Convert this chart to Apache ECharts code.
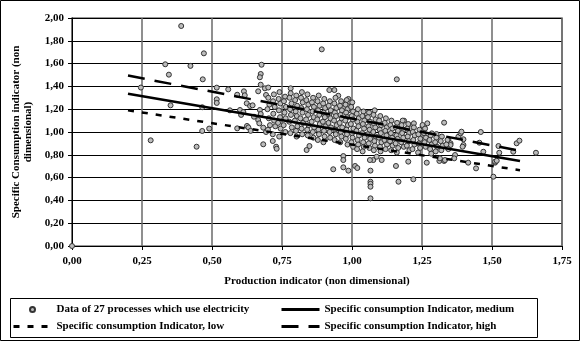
<!DOCTYPE html>
<html>
<head>
<meta charset="utf-8">
<title>Specific consumption indicator</title>
<script src="https://cdn.jsdelivr.net/npm/echarts@6/dist/echarts.min.js"></script>
<style>
    html, body { margin: 0; padding: 0; background: #fff; }
    #chart { width: 580px; height: 341px; }
</style>
</head>
<body>
<div id="chart"></div>
<script>
// series names
var seriesNames = [
    'Data of 27 processes which use electricity',
    'Specific consumption Indicator, medium',
    'Specific consumption Indicator, low',
    'Specific consumption Indicator, high'
];

// scattered points outside the main cloud
var sparsePoints = [
    [0, 0],
    [0.246, 1.39], [0.281, 0.927], [0.333, 1.594], [0.346, 1.503], [0.352, 1.234], [0.39, 1.93],
    [0.423, 1.58], [0.445, 0.871], [0.467, 1.462], [0.471, 1.69], [0.465, 1.217], [0.465, 1.009],
    [0.49, 1.03], [0.517, 1.389], [0.517, 1.287], [0.517, 1.255], [0.558, 1.374], [0.564, 1.19],
    [0.59, 1.327], [0.59, 1.032], [0.6, 1.193], [0.604, 1.15], [0.614, 1.357], [0.617, 1.322],
    [0.625, 1.053], [0.624, 1.252], [0.636, 1.228], [0.645, 1.234], [0.612, 1.175], [0.63, 1.04],
    [0.638, 1.01], [0.65, 1.134], [0.665, 1.357], [0.677, 1.59], [0.674, 1.509], [0.671, 1.48],
    [0.674, 1.415], [0.689, 1.383], [0.701, 1.39], [0.693, 1.325], [0.671, 1.193], [0.674, 1.158],
    [0.665, 1.105], [0.669, 1.076], [0.683, 1.038], [0.693, 1.0], [0.683, 0.892], [0.717, 0.921],
    [0.729, 0.871], [0.731, 0.853], [0.781, 1.383], [0.892, 1.725], [0.919, 1.368], [0.937, 1.368],
    [0.951, 1.318], [0.987, 1.29], [0.987, 1.26], [0.987, 1.225], [0.987, 1.19], [0.971, 1.217],
    [0.838, 0.842], [0.848, 0.877], [0.969, 0.789], [0.969, 0.754], [0.933, 0.673], [0.969, 0.69],
    [0.987, 0.661], [1.011, 0.702], [1.019, 0.684], [1.066, 0.661], [1.066, 0.564], [1.066, 0.545],
    [1.066, 0.52], [1.066, 0.418], [1.157, 0.702], [1.166, 0.564], [1.219, 0.585], [1.201, 0.74],
    [1.267, 0.731], [1.312, 0.746], [1.329, 0.746], [1.415, 0.731], [1.443, 0.681], [1.505, 0.608],
    [1.511, 0.731], [1.16, 1.462], [1.052, 1.164], [1.186, 1.099], [1.221, 1.076], [1.21, 1.032],
    [1.252, 1.061], [1.269, 1.076], [1.329, 1.082], [1.285, 0.988], [1.302, 0.982], [1.344, 0.936],
    [1.352, 0.901], [1.38, 0.959], [1.314, 0.769], [1.332, 0.754], [1.076, 0.754], [1.088, 0.783],
    [1.106, 0.754], [1.064, 0.754], [1.388, 0.988], [1.391, 1.003], [1.398, 0.936], [1.398, 0.886],
    [1.395, 0.871], [1.46, 1.0], [1.352, 0.886], [1.368, 0.798], [1.365, 0.769], [1.469, 0.827],
    [1.455, 0.906], [1.511, 0.74], [1.517, 0.748], [1.523, 0.877], [1.526, 0.818], [1.576, 0.827],
    [1.588, 0.901], [1.598, 0.924], [1.657, 0.818]
];

// dense cloud of points around the medium line
var densePoints = [
    [0.701, 1.30], [0.705, 1.24], [0.698, 1.20], [0.703, 1.12], [0.707, 1.06], [0.700, 1.02],
    [0.721, 1.33], [0.718, 1.27], [0.724, 1.22], [0.719, 1.16], [0.722, 1.10], [0.726, 1.05], [0.717, 0.98],
    [0.741, 1.35], [0.738, 1.29], [0.744, 1.25], [0.739, 1.19], [0.743, 1.13], [0.736, 1.08], [0.745, 1.03], [0.740, 0.96],
    [0.761, 1.31], [0.757, 1.27], [0.764, 1.22], [0.759, 1.17], [0.763, 1.12], [0.756, 1.06], [0.762, 1.00],
    [0.781, 1.34], [0.777, 1.30], [0.784, 1.25], [0.779, 1.20], [0.782, 1.15], [0.776, 1.09], [0.785, 1.04], [0.780, 0.99],
    [0.801, 1.32], [0.797, 1.28], [0.804, 1.23], [0.799, 1.18], [0.803, 1.14], [0.796, 1.10], [0.805, 1.05], [0.800, 1.01], [0.802, 0.96],
    [0.821, 1.35], [0.818, 1.30], [0.824, 1.26], [0.819, 1.21], [0.823, 1.17], [0.816, 1.12], [0.825, 1.08], [0.820, 1.03], [0.822, 0.98],
    [0.841, 1.33], [0.837, 1.28], [0.844, 1.24], [0.839, 1.20], [0.843, 1.15], [0.836, 1.11], [0.845, 1.06], [0.840, 1.02], [0.842, 0.97],
    [0.861, 1.30], [0.857, 1.26], [0.864, 1.22], [0.859, 1.18], [0.863, 1.13], [0.856, 1.09], [0.865, 1.04], [0.860, 1.00], [0.862, 0.95],
    [0.881, 1.32], [0.877, 1.27], [0.884, 1.23], [0.879, 1.19], [0.883, 1.15], [0.876, 1.11], [0.885, 1.07], [0.880, 1.02], [0.882, 0.98], [0.878, 0.93],
    [0.901, 1.29], [0.897, 1.25], [0.904, 1.21], [0.899, 1.17], [0.903, 1.13], [0.896, 1.09], [0.905, 1.05], [0.900, 1.01], [0.902, 0.96], [0.898, 0.91],
    [0.921, 1.27], [0.917, 1.23], [0.924, 1.19], [0.919, 1.15], [0.923, 1.12], [0.916, 1.08], [0.925, 1.04], [0.920, 1.00], [0.922, 0.95],
    [0.941, 1.30], [0.937, 1.25], [0.944, 1.21], [0.939, 1.17], [0.943, 1.14], [0.936, 1.10], [0.945, 1.06], [0.940, 1.02], [0.942, 0.98], [0.938, 0.93],
    [0.961, 1.27], [0.957, 1.23], [0.964, 1.19], [0.959, 1.15], [0.963, 1.12], [0.956, 1.08], [0.965, 1.04], [0.960, 1.00], [0.962, 0.96], [0.958, 0.91],
    [0.981, 1.28], [0.977, 1.24], [0.984, 1.20], [0.979, 1.17], [0.983, 1.13], [0.976, 1.10], [0.985, 1.06], [0.980, 1.02], [0.982, 0.98], [0.978, 0.94], [0.984, 0.89],
    [1.001, 1.26], [0.997, 1.22], [1.004, 1.18], [0.999, 1.14], [1.003, 1.11], [0.996, 1.07], [1.005, 1.03], [1.000, 0.99], [1.002, 0.95], [0.998, 0.91], [1.004, 0.87],
    [1.021, 1.20], [1.017, 1.16], [1.024, 1.12], [1.019, 1.09], [1.023, 1.05], [1.016, 1.01], [1.025, 0.97], [1.020, 0.93], [1.022, 0.89], [1.018, 0.85],
    [1.041, 1.18], [1.037, 1.14], [1.044, 1.10], [1.039, 1.07], [1.043, 1.03], [1.036, 0.99], [1.045, 0.95], [1.040, 0.91], [1.042, 0.87], [1.038, 0.83],
    [1.061, 1.17], [1.057, 1.13], [1.064, 1.09], [1.059, 1.05], [1.063, 1.02], [1.056, 0.98], [1.065, 0.94], [1.060, 0.90], [1.062, 0.86],
    [1.081, 1.19], [1.077, 1.15], [1.084, 1.11], [1.079, 1.07], [1.083, 1.04], [1.076, 1.00], [1.085, 0.96], [1.080, 0.92], [1.082, 0.88], [1.078, 0.84],
    [1.101, 1.14], [1.097, 1.10], [1.104, 1.06], [1.099, 1.02], [1.103, 0.99], [1.096, 0.95], [1.105, 0.91], [1.100, 0.87], [1.102, 0.83],
    [1.121, 1.12], [1.117, 1.08], [1.124, 1.04], [1.119, 1.01], [1.123, 0.97], [1.116, 0.93], [1.125, 0.89], [1.120, 0.85],
    [1.141, 1.10], [1.137, 1.06], [1.144, 1.03], [1.139, 0.99], [1.143, 0.95], [1.136, 0.92], [1.145, 0.88], [1.140, 0.84],
    [1.161, 1.08], [1.157, 1.04], [1.164, 1.01], [1.159, 0.97], [1.163, 0.94], [1.156, 0.90], [1.165, 0.86], [1.160, 0.82],
    [1.181, 1.10], [1.177, 1.06], [1.184, 1.02], [1.179, 0.99], [1.183, 0.95], [1.176, 0.91], [1.185, 0.87],
    [1.201, 1.07], [1.197, 1.03], [1.204, 0.99], [1.199, 0.96], [1.203, 0.92], [1.196, 0.88], [1.205, 0.84],
    [1.221, 1.04], [1.217, 1.00], [1.224, 0.97], [1.219, 0.93], [1.223, 0.89], [1.216, 0.85],
    [1.241, 1.02], [1.237, 0.98], [1.244, 0.94], [1.239, 0.90], [1.243, 0.86], [1.236, 0.82],
    [1.261, 1.03], [1.257, 0.99], [1.264, 0.95], [1.259, 0.91], [1.263, 0.87],
    [1.281, 0.97], [1.277, 0.93], [1.284, 0.89], [1.279, 0.85], [1.283, 0.81],
    [1.301, 0.95], [1.297, 0.91], [1.304, 0.87], [1.299, 0.83],
    [1.321, 0.96], [1.317, 0.92], [1.324, 0.88], [1.319, 0.84],
    [1.341, 0.93], [1.337, 0.89], [1.344, 0.85]
];

// fitted indicator lines (x, y)
var mediumLine = [[0.2, 1.335], [1.6, 0.745]];
var lowLine = [[0.2, 1.19], [1.6, 0.665]];
var highLine = [[0.2, 1.495], [1.6, 0.835]];

var chart = echarts.init(document.getElementById('chart'));
var serifFont = '"Liberation Serif", "Times New Roman", serif';

//逗号小数
function commaLabel(v) {
    return v.toFixed(2).replace('.', ',');
}

var legendText = { fontFamily: serifFont, fontWeight: 'bold', fontSize: 11, color: '#000' };
// line legends: hide the marker that ECharts puts in the middle of the line icon
var lineLegend = function (name, left, top) {
    return {
        data: [name], left: left, top: top, padding: 0, itemWidth: 38, itemHeight: 12,
        textStyle: legendText, selectedMode: false, itemStyle: { opacity: 0 },
        lineStyle: { width: 3 }
    };
};

var option = {
    animation: false,
    backgroundColor: '#fff',
    grid: {
        left: 72, right: 18, top: 18, bottom: 95,
        show: true, borderColor: '#777', borderWidth: 1.5
    },
    xAxis: {
        type: 'value', min: 0, max: 1.75, interval: 0.25,
        name: 'Production indicator (non dimensional)',
        nameLocation: 'middle', nameGap: 30,
        nameTextStyle: { fontFamily: serifFont, fontWeight: 'bold', fontSize: 11, color: '#000' },
        axisLine: { lineStyle: { color: '#000', width: 1 } },
        axisTick: { show: true, length: 4, lineStyle: { color: '#000' } },
        axisLabel: { formatter: commaLabel, margin: 10, fontFamily: serifFont, fontWeight: 'bold', fontSize: 11, color: '#000' },
        splitLine: { show: true, lineStyle: { color: '#6a6a6a', width: 1.5 } }
    },
    yAxis: {
        type: 'value', min: 0, max: 2, interval: 0.2,
        name: 'Specific Consumption indicator (non\ndimensional)',
        nameLocation: 'middle', nameGap: 33, nameRotate: 90,
        nameTextStyle: { fontFamily: serifFont, fontWeight: 'bold', fontSize: 11, color: '#000', lineHeight: 12 },
        axisLine: { show: true, lineStyle: { color: '#000', width: 1 } },
        axisTick: { show: true, length: 4, lineStyle: { color: '#000' } },
        axisLabel: { formatter: commaLabel, margin: 8, fontFamily: serifFont, fontWeight: 'bold', fontSize: 11, color: '#000' },
        splitLine: { show: true, lineStyle: { color: '#000', width: 1 } }
    },
    legend: [
        { data: [seriesNames[0]], left: 29, top: 304, padding: 0, itemWidth: 38, itemHeight: 5, textStyle: legendText, selectedMode: false },
        lineLegend(seriesNames[1], 280, 304),
        lineLegend(seriesNames[2], 12, 321),
        lineLegend(seriesNames[3], 280, 321)
    ],
    graphic: [
        { type: 'rect', shape: { x: 0.5, y: 0.5, width: 579, height: 340 }, style: { fill: 'none', stroke: '#000', lineWidth: 1 }, silent: true },
        { type: 'rect', shape: { x: 10.5, y: 298.5, width: 527, height: 39 }, style: { fill: 'none', stroke: '#000', lineWidth: 1 }, silent: true }
    ],
    series: [
        {
            name: seriesNames[0], type: 'scatter', symbol: 'circle', symbolSize: 5,
            itemStyle: { color: '#bcbcbc', borderColor: '#333', borderWidth: 1, opacity: 1 },
            data: sparsePoints.concat(densePoints), z: 2
        },
        {
            name: seriesNames[1], type: 'line', symbol: 'none', data: mediumLine, z: 5,
            lineStyle: { color: '#000', width: 2.5, type: 'solid' }
        },
        {
            name: seriesNames[2], type: 'line', symbol: 'none', data: lowLine, z: 5,
            lineStyle: { color: '#000', width: 2.5, type: [6, 8] }
        },
        {
            name: seriesNames[3], type: 'line', symbol: 'none', data: highLine, z: 5,
            lineStyle: { color: '#000', width: 2.5, type: [17, 10] }
        }
    ]
};
chart.setOption(option);
</script>
</body>
</html>
